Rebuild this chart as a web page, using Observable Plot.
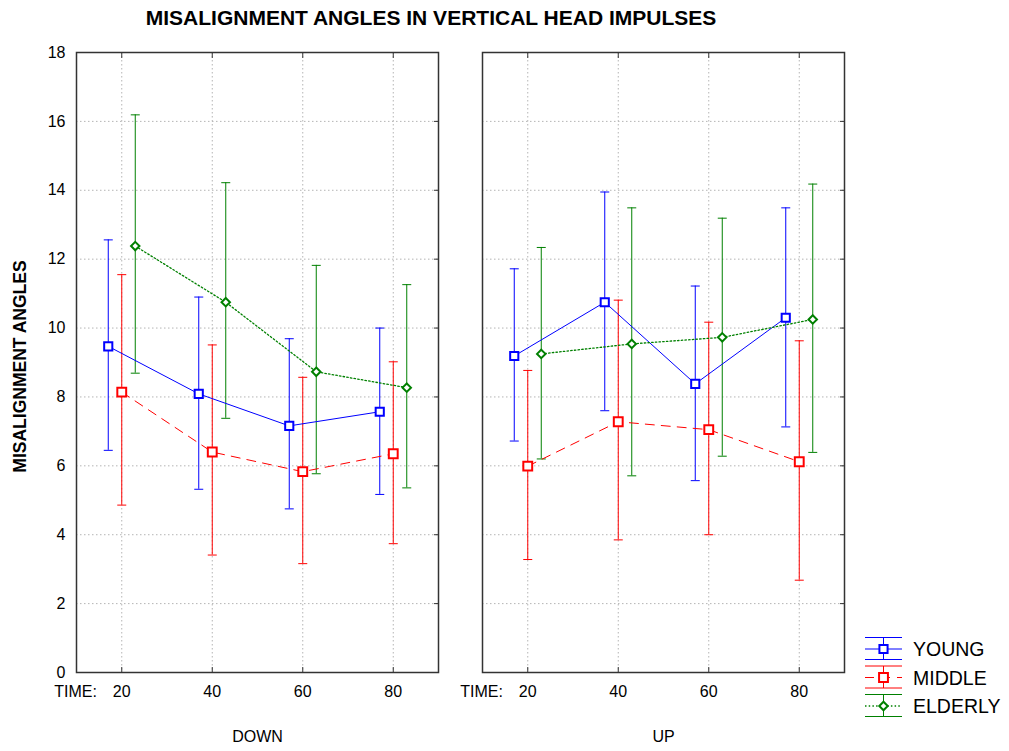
<!DOCTYPE html>
<html>
<head>
<meta charset="utf-8">
<script src="https://cdn.jsdelivr.net/npm/d3@7"></script>
<script src="https://cdn.jsdelivr.net/npm/@observablehq/plot@0.6"></script>
<style>
  html, body { margin: 0; padding: 0; background: #fff; }
  #wrap { position: relative; width: 1009px; height: 751px; font-family: "Liberation Sans", Arial, sans-serif; }
  #title { position: absolute; left: 0; width: 862px; top: 6px; text-align: center; font-size: 21px; font-weight: bold; line-height: 24px; color: #000; }
  #chart { position: absolute; left: 0; top: 0; }
  #legend { position: absolute; left: 0; top: 0; }
</style>
</head>
<body>
<div id="wrap">
  <div id="chart"></div>
  <div id="title">MISALIGNMENT ANGLES IN VERTICAL HEAD IMPULSES</div>
  <div id="legend"></div>
</div>
<script>
// ---------- data ----------
const times = [20, 40, 60, 80];
const directions = ["DOWN", "UP"];
const groups = ["YOUNG", "MIDDLE", "ELDERLY"];
const yTicks = [0, 2, 4, 6, 8, 10, 12, 14, 16, 18];

// DOWN
const youngDownMean   = [9.47, 8.09, 7.16, 7.57];
const youngDownLow    = [6.45, 5.32, 4.75, 5.17];
const youngDownHigh   = [12.56, 10.90, 9.69, 10.00];
const middleDownMean  = [8.14, 6.40, 5.83, 6.35];
const middleDownLow   = [4.86, 3.41, 3.16, 3.74];
const middleDownHigh  = [11.55, 9.51, 8.57, 9.02];
const elderlyDownMean = [12.38, 10.75, 8.73, 8.27];
const elderlyDownLow  = [8.69, 7.38, 5.77, 5.36];
const elderlyDownHigh = [16.19, 14.22, 11.82, 11.26];
// UP
const youngUpMean   = [9.19, 10.75, 8.38, 10.30];
const youngUpLow    = [6.72, 7.60, 5.57, 7.13];
const youngUpHigh   = [11.72, 13.95, 11.22, 13.49];
const middleUpMean  = [5.99, 7.28, 7.05, 6.12];
const middleUpLow   = [3.28, 3.85, 4.00, 2.68];
const middleUpHigh  = [8.77, 10.81, 10.17, 9.63];
const elderlyUpMean = [9.25, 9.54, 9.73, 10.25];
const elderlyUpLow  = [6.20, 5.71, 6.28, 6.39];
const elderlyUpHigh = [12.34, 13.49, 13.19, 14.18];

// ---------- build table ----------
function rowsFor(group, dir, mean, low, high) {
  return times.map((t, i) => ({group, dir, time: t, mean: mean[i], lo: low[i], hi: high[i]}));
}
const rowsByGroup = {
  YOUNG: [...rowsFor("YOUNG", "DOWN", youngDownMean, youngDownLow, youngDownHigh),
          ...rowsFor("YOUNG", "UP", youngUpMean, youngUpLow, youngUpHigh)],
  MIDDLE: [...rowsFor("MIDDLE", "DOWN", middleDownMean, middleDownLow, middleDownHigh),
           ...rowsFor("MIDDLE", "UP", middleUpMean, middleUpLow, middleUpHigh)],
  ELDERLY: [...rowsFor("ELDERLY", "DOWN", elderlyDownMean, elderlyDownLow, elderlyDownHigh),
            ...rowsFor("ELDERLY", "UP", elderlyUpMean, elderlyUpLow, elderlyUpHigh)]
};

// ---------- styles ----------
const style = {
  YOUNG:   {color: "#0000ff", dash: null,      lw: 1,   symbol: "square",   r: 4.6, dx: -13.5},
  MIDDLE:  {color: "#ff0000", dash: "9,7",     lw: 1,   symbol: "square",   r: 5.0, dx: 0},
  ELDERLY: {color: "#008000", dash: "1.5,2.2", lw: 1.3, symbol: "diamond2", r: 3.8, dx: 13.5}
};
const capSymbol = {draw(ctx) { ctx.moveTo(-4.5, 0); ctx.lineTo(4.5, 0); }};
const FONT = "Liberation Sans, Arial, sans-serif";
const gridStyle = {stroke: "#b4b4b4", strokeOpacity: 1, strokeDasharray: "1.5,2.5", strokeWidth: 1};

const seriesMarks = [];
for (const g of groups) {
  const s = style[g];
  const data = rowsByGroup[g];
  seriesMarks.push(
    Plot.ruleX(data, {fx: "dir", x: "time", y1: "lo", y2: "hi", stroke: s.color, strokeWidth: 1, dx: s.dx}),
    Plot.dot(data, {fx: "dir", x: "time", y: "hi", symbol: capSymbol, r: 4.5, fill: "none", stroke: s.color, strokeWidth: 1, dx: s.dx}),
    Plot.dot(data, {fx: "dir", x: "time", y: "lo", symbol: capSymbol, r: 4.5, fill: "none", stroke: s.color, strokeWidth: 1, dx: s.dx})
  );
}
for (const g of groups) {
  const s = style[g];
  const data = rowsByGroup[g];
  seriesMarks.push(
    Plot.line(data, {fx: "dir", x: "time", y: "mean", stroke: s.color, strokeWidth: s.lw, strokeDasharray: s.dash, dx: s.dx}),
    Plot.dot(data, {fx: "dir", x: "time", y: "mean", symbol: s.symbol, r: s.r, fill: "white", stroke: s.color, strokeWidth: 2, dx: s.dx})
  );
}

const chart = Plot.plot({
  width: 1009,
  height: 751,
  marginTop: 52,
  marginBottom: 79,
  marginLeft: 76,
  marginRight: 165,
  style: {fontFamily: FONT, fontSize: "16px", color: "#000", background: "white"},
  fx: {domain: directions, axis: null, paddingInner: 44 / 406, paddingOuter: 0, round: false, label: null},
  x: {domain: [10, 90], label: null},
  y: {domain: [0, 18], label: null},
  marks: [
    Plot.gridY(yTicks, gridStyle),
    Plot.gridX(times, gridStyle),
    Plot.axisY({ticks: yTicks, tickSize: 0, tickPadding: 11, fontSize: 16, label: null}),
    Plot.axisY({anchor: "right", ticks: yTicks, tickSize: 5, dx: -5, tickFormat: () => "", label: null, facetAnchor: null, stroke: "#333"}),
    Plot.axisX({anchor: "top", ticks: times, tickSize: 5, dy: 5, tickFormat: () => "", label: null, facetAnchor: null, stroke: "#333"}),
    Plot.axisX({anchor: "bottom", ticks: times, tickSize: 5, dy: -5, tickFormat: () => "", label: null, facetAnchor: null, stroke: "#333"}),
    Plot.axisX({anchor: "bottom", ticks: times, tickSize: 0, tickPadding: 13, fontSize: 16, label: null, facetAnchor: null}),
    Plot.frame({stroke: "#333", strokeWidth: 1.5}),
    Plot.text(directions, {fx: d => d, text: () => "TIME:", frameAnchor: "bottom-left", textAnchor: "middle", lineAnchor: "top", dy: 13, dx: -1, fontSize: 16}),
    Plot.text(directions, {fx: d => d, text: d => d, frameAnchor: "bottom", textAnchor: "middle", lineAnchor: "top", dy: 58, fontSize: 16}),
    Plot.text(["MISALIGNMENT ANGLES"], {fx: () => "DOWN", text: d => d, frameAnchor: "left", textAnchor: "middle", rotate: -90, dx: -56, dy: 4, fontSize: 17.5, fontWeight: "bold"}),
    ...seriesMarks
  ]
});
document.getElementById("chart").appendChild(chart);

// ---------- legend ----------
const legendRowY = {YOUNG: 649, MIDDLE: 677.5, ELDERLY: 706};
const lsvg = d3.select("#legend").append("svg")
  .attr("width", 1009).attr("height", 751)
  .style("font-family", FONT);
for (const g of groups) {
  const s = style[g];
  const cy = legendRowY[g];
  const x0 = 865, x1 = 902, cx = 883.5;
  const gg = lsvg.append("g");
  gg.append("line").attr("x1", x0).attr("x2", x1).attr("y1", cy - 11.5).attr("y2", cy - 11.5).attr("stroke", s.color);
  gg.append("line").attr("x1", x0).attr("x2", x1).attr("y1", cy + 10.5).attr("y2", cy + 10.5).attr("stroke", s.color);
  gg.append("line").attr("x1", cx).attr("x2", cx).attr("y1", cy - 11.5).attr("y2", cy + 10.5).attr("stroke", s.color);
  gg.append("line").attr("x1", x0).attr("x2", x1).attr("y1", cy).attr("y2", cy)
    .attr("stroke", s.color).attr("stroke-width", s.lw).attr("stroke-dasharray", s.dash);
  const sym = s.symbol === "square" ? d3.symbolSquare : d3.symbolDiamond2;
  gg.append("path").attr("d", d3.symbol(sym, Math.PI * s.r * s.r)())
    .attr("transform", `translate(${cx},${cy})`)
    .attr("fill", "white").attr("stroke", s.color).attr("stroke-width", 2);
  gg.append("text").attr("x", 913).attr("y", cy).attr("dy", "0.36em")
    .attr("font-size", 19.5).attr("fill", "#000").text(g);
}
</script>
</body>
</html>
